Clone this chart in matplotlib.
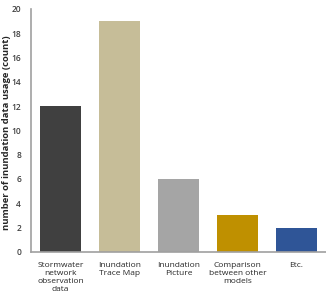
import matplotlib
matplotlib.use('Agg')
import matplotlib.pyplot as plt
import numpy as np

plt.rcParams['font.family'] = ['Open Sans', 'DejaVu Sans']

categories = ['Stormwater\nnetwork\nobservation\ndata', 'Inundation\nTrace Map',
              'Inundation\nPicture', 'Comparison\nbetween other\nmodels', 'Etc.']
counts = [12, 19, 6, 3, 2]
colors = ['#404040', '#c6bd98', '#a5a5a5', '#bf9000', '#2f5597']

fig = plt.figure(figsize=(3.26, 2.97), dpi=100)
ax = fig.add_axes([0.095, 0.152, 0.905, 0.818])

x = np.arange(len(categories))
ax.bar(x, counts, width=0.7, color=colors)

ax.set_xlim(-0.5, 4.5)
ax.set_ylim(0, 20)
ax.set_yticks(range(0, 21, 2))
ax.set_xticks(x)
ax.set_xticklabels(categories, fontsize=6, linespacing=1.2, color='#262626')
for lbl in ax.get_yticklabels():
    lbl.set_fontsize(6)
    lbl.set_fontweight('semibold')
    lbl.set_color('#404040')
ax.tick_params(axis='y', length=0, pad=7)
ax.tick_params(axis='x', length=0, pad=7)
ax.set_ylabel('number of inundation data usage (count)', fontsize=6.8, fontweight='bold', color='#262626')
ax.yaxis.set_label_coords(-0.066, 0.49)

for s in ['top', 'right']:
    ax.spines[s].set_visible(False)
for s in ['left', 'bottom']:
    ax.spines[s].set_color('#a0a0a0')
    ax.spines[s].set_linewidth(1.2)

fig.savefig('out.png', dpi=100)
